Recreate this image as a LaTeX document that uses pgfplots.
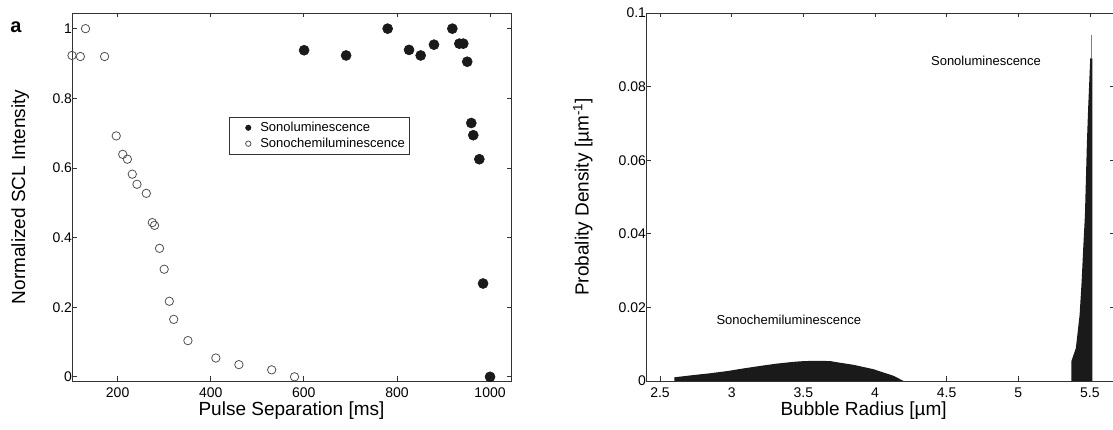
\documentclass[border=0pt]{standalone}
\usepackage{fontspec}
\setmainfont{Liberation Sans}
\usepackage{pgfplots}
\pgfplotsset{compat=1.18}
\definecolor{dk}{HTML}{1A1A1A}
\definecolor{ax}{HTML}{333333}
\definecolor{og}{HTML}{505050}
\pgfplotsset{
  panel/.style={
    scale only axis,
    height=368pt,
    tick align=inside,
    major tick length=4.5pt,
    axis line style={ax, line width=0.8pt},
    every tick/.style={ax, line width=0.7pt},
    tick label style={font=\fontsize{14}{16}\selectfont},
    xticklabel style={yshift=-3pt},
    yticklabel style={xshift=3.5pt},
    /pgf/number format/assume math mode=true,
    label style={font=\fontsize{19}{22}\selectfont},
  }
}
\begin{document}
\begin{tikzpicture}
\path[use as bounding box] (0pt,0pt) rectangle (1113pt,430pt);
% ---------- panel a ----------
\begin{axis}[panel,
  at={(72pt,49pt)}, anchor=south west,
  width=439pt,
  xmin=102, xmax=1045, ymin=-0.012, ymax=1.045,
  xtick={200,400,600,800,1000},
  xticklabels={200,400,600,800,1000},
  ytick={0,0.2,0.4,0.6,0.8,1},
  yticklabels={0,0.2,0.4,0.6,0.8,1},
  clip=false,
  xlabel={Pulse Separation [ms]},
  ylabel={Normalized SCL Intensity},
  xlabel style={at={(rel axis cs:0.5,-0.0815)}, anchor=center},
  ylabel style={at={(rel axis cs:-0.118,0.5)}, anchor=center},
  legend style={at={(rel axis cs:0.3576,0.7174)}, anchor=north west,
    draw=ax, line width=0.6pt, font=\fontsize{13}{15}\selectfont,
    inner xsep=2pt, inner ysep=3pt, row sep=1pt,
    nodes={inner sep=2pt},
    cells={anchor=west}},
  legend image code/.code={\path[draw=none,fill=none] (0pt,-2pt) -- (27pt,2pt); \draw[#1] plot coordinates {(17pt,0pt)};},
  legend image post style={mark size=2.7pt, line width=0.6pt},
]
\addplot[only marks, mark=*, mark size=5pt, mark options={fill=dk, draw=dk, line width=0.6pt}]
coordinates {
(600.6,0.938) (690.8,0.923) (780,1.000) (826,0.939) (851,0.923)
(879.6,0.954) (919,1.000) (934,0.957) (942.5,0.957) (951,0.905)
(959.7,0.729) (964,0.694) (977,0.625) (985,0.268) (1000,0.000)
};
\addlegendentry{Sonoluminescence}
\addplot[only marks, mark=o, mark size=4.2pt, mark options={fill=white, draw=og, line width=0.8pt}]
coordinates {
(102,0.923) (120,0.920) (131,1.000) (172,0.920) (197,0.692)
(211,0.639) (221,0.625) (231.5,0.582) (241.6,0.553) (261.6,0.527)
(274.5,0.443) (279.4,0.435) (290,0.369) (300,0.309) (311,0.217)
(320.5,0.165) (351,0.104) (411,0.054) (460.5,0.035) (531,0.020)
(580,0.000)
};
\addlegendentry{Sonochemiluminescence}
\node[font=\bfseries\fontsize{20}{22}\selectfont] at (rel axis cs:-0.1276,0.962) {a};
\end{axis}
% ---------- panel b ----------
\begin{axis}[panel,
  at={(646pt,49pt)}, anchor=south west,
  width=468pt,
  xmin=2.4023, xmax=5.668, ymin=0, ymax=0.1,
  xtick={2.5,3,3.5,4,4.5,5,5.5},
  xticklabels={2.5,3,3.5,4,4.5,5,5.5},
  ytick={0,0.02,0.04,0.06,0.08,0.1},
  yticklabels={0,0.02,0.04,0.06,0.08,0.1},
  xlabel={Bubble Radius [µm]},
  ylabel={Probality Density [µm\textsuperscript{-1}]},
  xlabel style={at={(rel axis cs:0.465,-0.0815)}, anchor=center},
  ylabel style={at={(rel axis cs:-0.135,0.5)}, anchor=center},
]
\addplot[fill=dk, draw=none] coordinates {
(2.60,0.0010) (2.73,0.0016) (2.85,0.0021) (2.97,0.0027) (3.08,0.0034)
(3.20,0.0041) (3.31,0.0047) (3.43,0.0052) (3.50,0.0054) (3.60,0.0055)
(3.69,0.0054) (3.75,0.0050) (3.85,0.0044) (3.92,0.0038) (3.99,0.0032)
(4.06,0.0023) (4.13,0.0014) (4.20,0.0000)
} \closedcycle;
\addplot[fill=dk, draw=none] coordinates {
(5.370,0.0053) (5.402,0.0090) (5.428,0.0180) (5.442,0.0270) (5.453,0.0360)
(5.465,0.0450) (5.479,0.0650) (5.488,0.0746) (5.495,0.0810) (5.502,0.0877)
(5.517,0.0877)
} \closedcycle;
\addplot[draw=gray, line width=0.8pt] coordinates {(5.510,0.0877) (5.510,0.0940)};
\node[font=\fontsize{13}{15}\selectfont] at (axis cs:4.775,0.0869) {Sonoluminescence};
\node[font=\fontsize{13}{15}\selectfont, anchor=west] at (axis cs:2.87,0.0166) {Sonochemiluminescence};
\node[font=\bfseries\fontsize{20}{22}\selectfont] at (rel axis cs:-0.111,0.955) {b};
\end{axis}
\end{tikzpicture}
\end{document}
